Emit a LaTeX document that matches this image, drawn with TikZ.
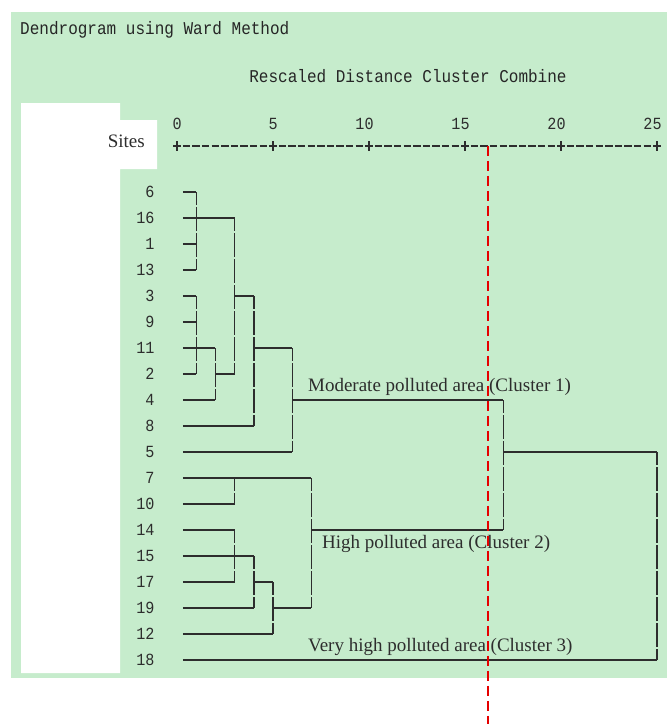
\documentclass[tikz,border=0pt]{standalone}
\usepackage{fontspec}
\setmainfont{Liberation Serif}
\newfontfamily\spssmono[FakeStretch=0.89]{Liberation Mono}
\usetikzlibrary{positioning}
\definecolor{spssgreen}{RGB}{198,236,204}
\definecolor{inkgray}{RGB}{45,45,45}
\tikzset{
    leaf line/.style={line width=1.4pt, inkgray},
    join line/.style={line width=1.4pt, inkgray,
        dash pattern=on 24pt off 2pt, dash phase=11pt},
    axis line/.style={line width=1.2pt, inkgray,
        dash pattern=on 7.4pt off 2.2pt},
    cut line/.style={line width=2pt, red!90!black,
        dash pattern=on 10pt off 5pt},
    mono title/.style={font=\spssmono\fontsize{18}{18}\selectfont,
        text=black!85, inner sep=0pt},
    site label/.style={font=\spssmono\fontsize{17}{17}\selectfont,
        text=inkgray, inner sep=0pt},
    tick label/.style={font=\spssmono\fontsize{17}{17}\selectfont,
        text=inkgray, inner sep=0pt, anchor=south east},
    cluster label/.style={font=\fontsize{19}{19}\selectfont,
        text=inkgray, inner sep=0pt, anchor=west}
}

\begin{document}
\begin{tikzpicture}[x=1pt,y=-1pt]
    \useasboundingbox (0,0) rectangle (667,724);
    % panel
    \fill[spssgreen] (11,12) rectangle (667,678);
    \fill[white] (21,103) -- (120,103) -- (120,120) -- (157,120)
        -- (157,169) -- (120,169) -- (120,673) -- (21,673) -- cycle;
    \node[mono title, anchor=west] (title) at (20,30)
        {Dendrogram using Ward Method};
    \node[mono title] (scaletitle) at (408,76)
        {Rescaled Distance Cluster Combine};
    \node[font=\fontsize{19}{19}\selectfont, text=inkgray, inner sep=0pt,
        anchor=east] (sites) at (145,141) {Sites};

    \begin{scope}[xshift=177pt, yshift=-166pt, x=19.2pt, y=-26pt]
        % distance axis
        \draw[axis line] (-0.2,-0.77) -- (25.2,-0.77);
        \foreach \t in {0,5,...,25}{
            \draw[line width=1.2pt, inkgray] (\t,-0.77) ++(0,-5pt) -- ++(0,10pt);
            \node[tick label] (tick\t) at ([xshift=4.8pt]\t,-1.38) {\t};
        }
        % sites
        \foreach \s [count=\i] in {6,16,1,13,3,9,11,2,4,8,5,7,10,14,15,17,19,12,18}{
            \coordinate (lf\i) at (0.3,\i);
            \node[site label, left=28pt of lf\i] (site\i) {\s};
        }
        \foreach \i/\d in {1/1,2/3,3/1,4/1,5/1,6/1,7/2,8/1,9/2,10/4,11/6,
                12/7,13/3,14/3,15/4,16/3,17/4,18/5,19/25}
            \draw[leaf line] (lf\i) -- (\d,\i);
        % merges
        \foreach \r/\a/\b in {8/2/3,5/3/4,7/4/6,9/6/17,16/4/5,17/5/7,14/7/17,11/17/25}
            \draw[leaf line] (\a,\r) -- (\b,\r);
        \foreach \d/\a/\b in {1/1/4,1/5/8,2/7/9,3/2/8,4/5/10,6/7/11,3/12/13,
                3/14/16,4/15/17,5/16/18,7/12/17,17/9/14,25/11/19}
            \draw[join line] (\d,\a) -- (\d,\b);
        % clusters
        \node[cluster label] (clusterA) at (6.82,8.5)
            {Moderate polluted area (Cluster 1)};
        \node[cluster label] (clusterB) at (7.55,14.54)
            {High polluted area (Cluster 2)};
        \node[cluster label] (clusterC) at (6.82,18.5)
            {Very high polluted area (Cluster 3)};
        % cut-off
        \coordinate (cuttop) at (16.2,-0.77);
        \coordinate (cutbot) at (16.2,21.5);
        \draw[cut line] (cuttop) -- (cutbot);
    \end{scope}
\end{tikzpicture}
\end{document}
